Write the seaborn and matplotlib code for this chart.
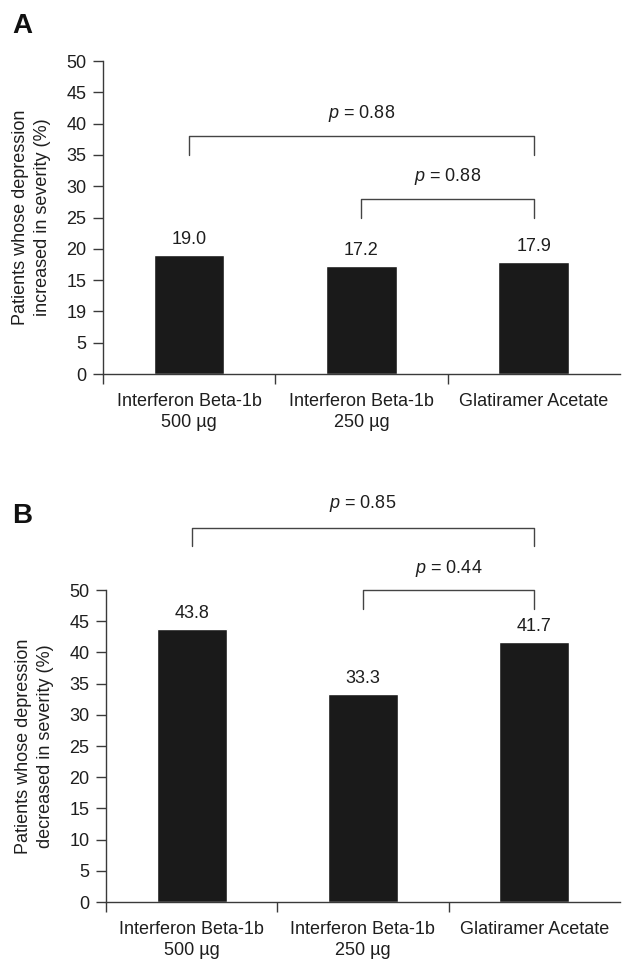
import matplotlib
matplotlib.use('Agg')
import matplotlib.pyplot as plt
import seaborn as sns

# data
categories = ['Interferon Beta-1b\n500 µg', 'Interferon Beta-1b\n250 µg', 'Glatiramer Acetate']
increased = [19.0, 17.2, 17.9]
decreased = [43.8, 33.3, 41.7]
yticks = [0, 5, 10, 15, 20, 25, 30, 35, 40, 45, 50]
yticklabels_a = ['0', '5', '19', '15', '20', '25', '30', '35', '40', '45', '50']
yticklabels_b = [str(t) for t in yticks]
# (bar i, bar j, bracket top, leg bottom, text y, label)
brackets_a = [(0, 2, 38, 35, 41.7, '0.88'), (1, 2, 28, 25, 31.6, '0.88')]
brackets_b = [(0, 2, 60, 57, 63.9, '0.85'), (1, 2, 50, 47, 53.5, '0.44')]

sns.set_style('white')
plt.rcParams['font.family'] = ['Liberation Sans', 'DejaVu Sans']
plt.rcParams['mathtext.fontset'] = 'custom'
plt.rcParams['mathtext.it'] = 'Liberation Sans:italic'
plt.rcParams['mathtext.rm'] = 'Liberation Sans'

fig = plt.figure(figsize=(6.22, 9.6), dpi=100)
ax_a = fig.add_axes([0.1656, 0.6104, 0.831, 0.326])
ax_b = fig.add_axes([0.1704, 0.0604, 0.826, 0.325])

axis_col = '#3a3a3a'
txt_col = '#1e1e1e'
fs = 13


def draw_panel(ax, vals, ylabel, ticklabels, brackets, letter, letter_y):
    sns.barplot(x=categories, y=vals, color='#1a1a1a', width=0.41,
                saturation=1, ax=ax)
    ax.set_xlim(-0.5, 2.5)
    ax.set_ylim(0, 50)
    ax.set_yticks(yticks)
    ax.set_yticklabels(ticklabels, fontsize=fs, color=txt_col)
    ax.set_xticks([0, 1, 2])
    ax.set_xticklabels(categories, fontsize=fs, color=txt_col, linespacing=1.25)
    ax.set_xticks([-0.5, 0.5, 1.5], minor=True)
    ax.tick_params(axis='x', which='major', bottom=True, length=0, pad=14)
    ax.tick_params(axis='x', which='minor', bottom=True, length=7, width=1,
                   color=axis_col, direction='out')
    ax.tick_params(axis='y', left=True, length=7, width=1, color=axis_col,
                   direction='out', pad=5)
    for s in ['top', 'right']:
        ax.spines[s].set_visible(False)
    for s in ['left', 'bottom']:
        ax.spines[s].set_color(axis_col)
        ax.spines[s].set_linewidth(1)
    ax.set_xlabel('')
    ax.set_ylabel(ylabel, fontsize=fs, color=txt_col, labelpad=11, linespacing=1.35)
    for i, v in enumerate(vals):
        ax.annotate(f'{v:.1f}', (i, v), xytext=(0, 5), textcoords='offset points',
                    ha='center', va='bottom', fontsize=fs, color=txt_col)
    for i, j, top, leg, ty, lab in brackets:
        ax.plot([i, i, j, j], [leg, top, top, leg], color='#444444', lw=1, clip_on=False)
        ax.text((i + j) / 2, ty, f'$p$ = {lab}', ha='center', va='center',
                fontsize=fs, color=txt_col, clip_on=False)
    fig.text(0.019, letter_y, letter, fontsize=20, fontweight='bold', va='top',
             color='#111111')


draw_panel(ax_a, increased, 'Patients whose depression\nincreased in severity (%)',
           yticklabels_a, brackets_a, 'A', 0.986)
draw_panel(ax_b, decreased, 'Patients whose depression\ndecreased in severity (%)',
           yticklabels_b, brackets_b, 'B', 0.476)

fig.savefig('out.png', dpi=100)
